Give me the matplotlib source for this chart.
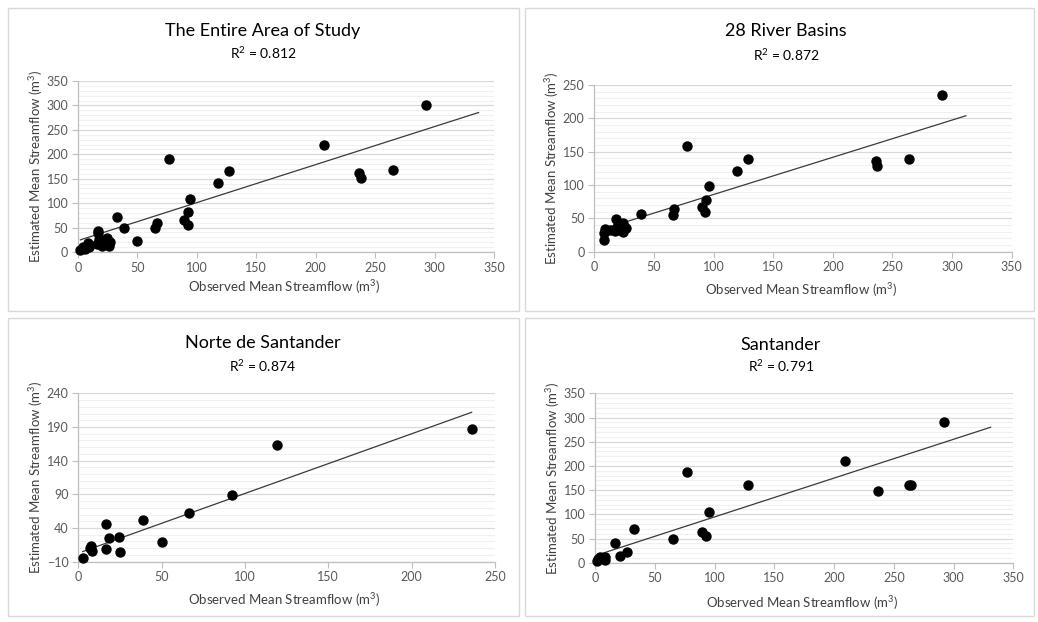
import matplotlib
matplotlib.use("Agg")
import matplotlib.pyplot as plt
from matplotlib.patches import Rectangle
from matplotlib.ticker import MultipleLocator
import numpy as np

plt.rcParams['font.family'] = ['Lato', 'DejaVu Sans']
plt.rcParams['mathtext.fontset'] = 'custom'
plt.rcParams['mathtext.rm'] = 'Lato'
plt.rcParams['mathtext.it'] = 'Lato'
plt.rcParams['mathtext.default'] = 'regular'

# ---- Data ----
titles = ["The Entire Area of Study", "28 River Basins", "Norte de Santander", "Santander"]
r2_labels = ["0.812", "0.872", "0.874", "0.791"]

x_entire = [207, 76.4, 127, 118, 94.4, 92.5, 89, 92.5, 66.7, 64.7, 32.8, 38.3, 49.7, 16.7, 16.7,
            24.4, 27, 25.8, 20, 16, 18, 8.3, 9, 4, 2, 5.5, 293, 236.7, 237.8, 265]
y_entire = [218, 191, 165, 141, 109, 82, 65, 56, 60, 49, 71, 49, 22.5, 44, 38,
            29, 21, 12, 12, 16, 27, 18, 10, 10, 5, 7, 301, 161, 152, 168]

x_basins = [77.6, 129, 120, 95.8, 93.8, 90.2, 93, 67, 66, 39, 18, 17.4, 24.4, 26.6, 24.4,
            21.6, 19, 9, 8, 8.4, 13, 291.5, 236, 237, 264]
y_basins = [158, 138.5, 120.5, 98.5, 78, 67.5, 60, 63.5, 55, 56.5, 48.5, 31, 42.5, 35, 29,
            32.5, 37.5, 33.5, 27.5, 17.5, 33, 234.5, 136, 129, 138.5]

x_norte = [119, 92.5, 66.5, 38.6, 50.5, 16.4, 24.2, 18.2, 25.1, 16.4, 7.9, 8.5, 7, 2.6, 236.1]
y_norte = [162.8, 89.5, 62.8, 52, 19.7, 46, 27.1, 24.7, 4.9, 9.3, 13.3, 6.3, 9.8, -5, 186.5]

x_sant = [77.2, 128, 95.3, 89.7, 92.5, 65.6, 33, 17, 20.8, 26.4, 8.3, 8.3, 2.8, 1.4, 4,
          292, 209, 236.6, 264, 263]
y_sant = [187.5, 160.6, 105.4, 64, 55, 48, 70.3, 40, 13.8, 21.4, 12.4, 5.5, 7, 3.5, 11,
          291.5, 210, 148, 160.6, 161]

# trendline (slope, intercept, x start, x end)
trend_slope = [0.778, 0.558, 0.886, 0.802]
trend_icpt = [23.3, 30.0, 2.7, 14.4]
trend_x0 = [2, 7.3, 2.6, 1.4]
trend_x1 = [337, 311.6, 236, 331]

x_limits = [(0, 350), (0, 350), (0, 250), (0, 350)]
y_limits = [(0, 350), (0, 250), (-10, 240), (0, 350)]
xs_all = [x_entire, x_basins, x_norte, x_sant]
ys_all = [y_entire, y_basins, y_norte, y_sant]

W, H = 1038, 622
fig = plt.figure(figsize=(W / 100, H / 100), dpi=100)
fig.patch.set_facecolor("white")

# axes boxes in pixel coords: (left, right, top, bottom)
ax_px = [(78, 494, 81, 252), (594.3, 1011.7, 85, 251.7),
         (78.3, 495, 393.3, 561.7), (595, 1013.3, 393.3, 562.7)]
frames_px = [(8, 519, 8, 311), (525, 1034, 8, 311), (8, 519, 318, 616), (525, 1034, 318, 616)]
title_x = [263, 786, 263, 781]
title_y = [31, 31, 343, 345]
r2_y = [53, 55, 366, 366]
xlabel_y = [287, 290, 600, 603]
ylabel_x = [36, 552, 36, 553]

gray_txt = "#595959"
for i in range(4):
    fl, fr, ft, fb = frames_px[i]
    fig.patches.append(Rectangle((fl / W, 1 - fb / H), (fr - fl) / W, (fb - ft) / H,
                                 transform=fig.transFigure, fill=False,
                                 edgecolor="#d9d9d9", linewidth=1.0))
    l, r, t, b = ax_px[i]
    ax = fig.add_axes([l / W, 1 - b / H, (r - l) / W, (b - t) / H])
    ax.set_xlim(*x_limits[i])
    ax.set_ylim(*y_limits[i])
    ax.xaxis.set_major_locator(MultipleLocator(50))
    ax.yaxis.set_major_locator(MultipleLocator(50))
    ax.yaxis.set_minor_locator(MultipleLocator(10))
    if i == 2:
        ax.set_yticks(np.arange(-10, 241, 50))
        ax.set_yticks(np.arange(-10, 241, 10), minor=True)
    ax.grid(which="minor", axis="y", color="#f0f0f0", linewidth=0.8)
    ax.grid(which="major", axis="y", color="#d9d9d9", linewidth=0.9)
    ax.set_axisbelow(True)
    for s in ["top", "right"]:
        ax.spines[s].set_visible(False)
    for s in ["left", "bottom"]:
        ax.spines[s].set_color("#bfbfbf")
        ax.spines[s].set_linewidth(0.9)
    ax.tick_params(which="major", direction="out", length=4, color="#bfbfbf",
                   labelsize=9, labelcolor=gray_txt, pad=3)
    ax.tick_params(which="minor", length=0)
    ax.scatter(xs_all[i], ys_all[i], s=42, color="black", zorder=3, clip_on=False)
    tx = np.array([trend_x0[i], trend_x1[i]])
    ax.plot(tx, trend_slope[i] * tx + trend_icpt[i], color="#3a3a3a", linewidth=0.9, zorder=2)

    cx = title_x[i]
    fig.text(cx / W, 1 - title_y[i] / H, titles[i], ha="center", va="center",
             fontsize=13, color="black")
    fig.text(cx / W, 1 - r2_y[i] / H, "R$^{2}$ = " + r2_labels[i], ha="center", va="center",
             fontsize=10, color="black")
    fig.text(((l + r) / 2 - 2) / W, 1 - xlabel_y[i] / H, "Observed Mean Streamflow (m$^{3}$)",
             ha="center", va="center", fontsize=9.5, color="#404040")
    fig.text(ylabel_x[i] / W, 1 - ((t + b) / 2) / H, "Estimated Mean Streamflow (m$^{3}$)",
             ha="center", va="center", rotation=90, fontsize=9.5, color="#404040")

fig.savefig("out.png", dpi=100, facecolor="white")
